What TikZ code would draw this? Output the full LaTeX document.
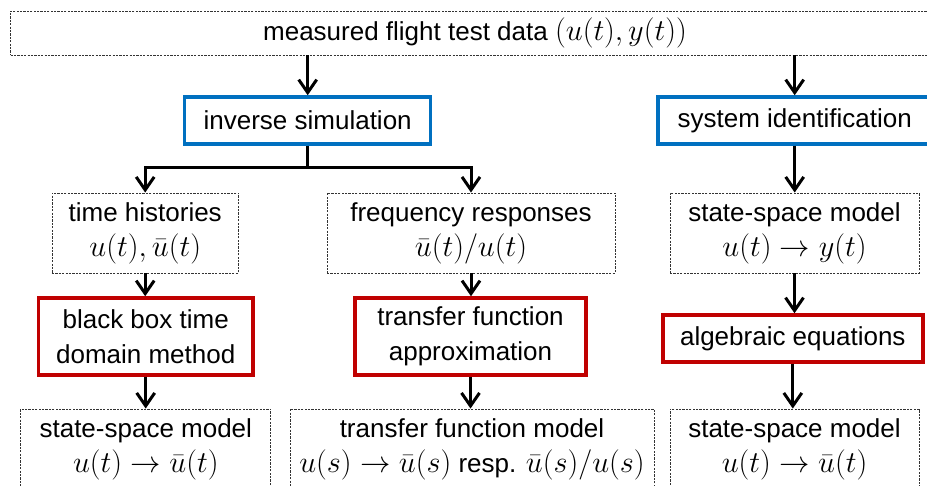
\documentclass[tikz,border=0pt]{standalone}
\usepackage{graphicx}
\usepackage{fontspec}
\setmainfont{Liberation Sans}
\usetikzlibrary{arrows.meta}
\definecolor{boxblue}{RGB}{0,112,192}
\definecolor{boxred}{RGB}{192,0,0}
\newcommand{\mth}[1]{\scalebox{1.22}{$#1$}}
\newcommand{\ar}{\rightarrow}
\tikzset{
  basebox/.style={rectangle, inner sep=0pt, align=center, text=black,
    font=\fontsize{26}{35}\selectfont},
  dbox/.style={basebox, draw=black!80, line width=0.9pt, dash pattern=on 2.2pt off 1.2pt},
  bbox/.style={basebox, draw=boxblue, line width=3.5pt},
  rbox/.style={basebox, draw=boxred, line width=3.5pt},
  arr/.style={draw=black, line width=3pt, -{Straight Barb[length=13pt,width=18pt]}},
  ln/.style={draw=black, line width=3pt}
}
\begin{document}
\begin{tikzpicture}[x=1pt,y=-1pt]
\useasboundingbox (0,0) rectangle (927,486);
\clip (0,0) rectangle (927,486);
\fill[white] (0,0) rectangle (927,486);
% row 0
\node[dbox, minimum width=929pt, minimum height=44pt] (top) at (475,33) {measured flight test data \mth{(u(t),y(t))}};
% row 1
\node[bbox, minimum width=246pt, minimum height=47pt] (inv) at (307.7,120.5) {inverse simulation};
\node[bbox, minimum width=273pt, minimum height=47pt] (sid) at (794.7,120.5) {system identification};
% row 2
\node[dbox, minimum width=186.5pt, minimum height=80pt] (th) at (145.2,233) {time histories\\\mth{u(t),\bar{u}(t)}};
\node[dbox, minimum width=288pt, minimum height=80pt] (fr) at (471,233) {frequency responses\\\mth{\bar{u}(t)/u(t)}};
\node[dbox, minimum width=249pt, minimum height=80pt] (ss1) at (794.5,233) {state-space model\\\mth{u(t)\ar y(t)}};
% row 3
\node[rbox, minimum width=214.5pt, minimum height=77pt] (bb) at (145.7,336.5) {black box time\\domain method};
\node[rbox, minimum width=231pt, minimum height=77pt] (tfa) at (470.5,336.5) {transfer function\\approximation};
\node[rbox, minimum width=260pt, minimum height=47pt] (alg) at (792.8,338.5) {algebraic equations};
% row 4
\node[dbox, minimum width=250pt, minimum height=81pt] (ss2) at (145.8,449.5) {state-space model\\\mth{u(t)\ar \bar{u}(t)}};
\node[dbox, minimum width=364pt, minimum height=81pt] (tfm) at (472,449.5) {transfer function model\\\mth{u(s)\ar \bar{u}(s)} resp. \mth{\bar{u}(s)/u(s)}};
\node[dbox, minimum width=249pt, minimum height=81pt] (ss3) at (794.5,449.5) {state-space model\\\mth{u(t)\ar \bar{u}(t)}};
% connectors
\draw[arr] (inv.north |- top.south) -- (inv.north);
\draw[arr] (sid.north |- top.south) -- (sid.north);
\coordinate (j) at (307.7,168);
\draw[ln] (inv.south) -- (j);
\draw[arr] (j) -| (th.north);
\draw[arr] (j) -| (fr.north);
\draw[arr] (sid.south) -- (sid.south |- ss1.north);
\draw[arr] (th.south) -- (th.south |- bb.north);
\draw[arr] (fr.south) -- (fr.south |- tfa.north);
\draw[arr] (ss1.south) -- (ss1.south |- alg.north);
\draw[arr] (bb.south) -- (bb.south |- ss2.north);
\draw[arr] (tfa.south) -- (tfa.south |- tfm.north);
\draw[arr] (alg.south) -- (alg.south |- ss3.north);
\end{tikzpicture}
\end{document}
